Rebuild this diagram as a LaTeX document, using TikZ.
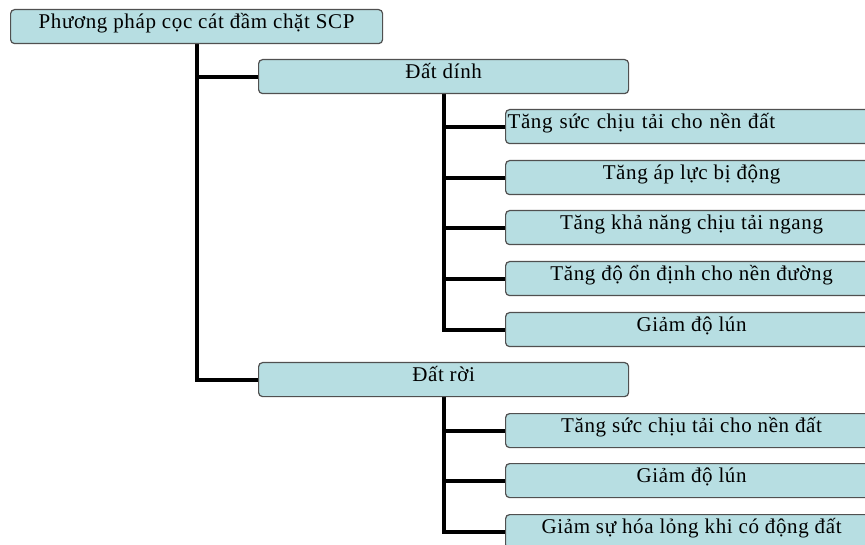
\documentclass[tikz,border=0pt]{standalone}
\usepackage{fontspec}
\setmainfont[LetterSpace=3]{Liberation Serif}
\usetikzlibrary{backgrounds}
\definecolor{boxfill}{RGB}{183,222,226}
\definecolor{boxline}{RGB}{80,80,80}
\tikzset{
  item/.style={draw=boxline, fill=boxfill, line width=1.2pt, rounded corners=4pt,
    anchor=north west, minimum width=372pt, minimum height=34pt,
    inner ysep=0pt, inner xsep=2pt, text height=19pt, text depth=15pt,
    font=\fontsize{21}{24}\selectfont},
  typeitem/.style={item, minimum width=370pt},
  leftitem/.style={item, text width=368pt, align=left},
  link/.style={line width=4pt, draw=black}
}
\begin{document}
\begin{tikzpicture}[x=1pt, y=-1pt]
  \useasboundingbox (0,0) rectangle (865,545);
  \clip (0,0) rectangle (865,545);

  % root and the two soil types
  \node[item] (root) at (10,9) {Phương pháp cọc cát đầm chặt SCP};
  \node[typeitem] (dinh) at (258,59) {Đất dính};
  \node[typeitem] (roi)  at (258,362) {Đất rời};

  % effects for cohesive soil
  \node[leftitem] (c1) at (505,109) {Tăng sức chịu tải cho nền đất};
  \node[item] (c2) at (505,160) {Tăng áp lực bị động};
  \node[item] (c3) at (505,210) {Tăng khả năng chịu tải ngang};
  \node[item] (c4) at (505,261) {Tăng độ ổn định cho nền đường};
  \node[item] (c5) at (505,312) {Giảm độ lún};

  % effects for granular soil
  \node[item] (c6) at (505,413) {Tăng sức chịu tải cho nền đất};
  \node[item] (c7) at (505,463) {Giảm độ lún};
  \node[item] (c8) at (505,514) {Giảm sự hóa lỏng khi có động đất};

  \begin{scope}[on background layer]
    \draw[link] (root.south) |- (dinh.west);
    \draw[link] (root.south) |- (roi.west);
    \foreach \c in {c1,c2,c3,c4,c5}
      \draw[link] (dinh.south) |- (\c.west);
    \foreach \c in {c6,c7,c8}
      \draw[link] (roi.south) |- (\c.west);
  \end{scope}
\end{tikzpicture}
\end{document}
